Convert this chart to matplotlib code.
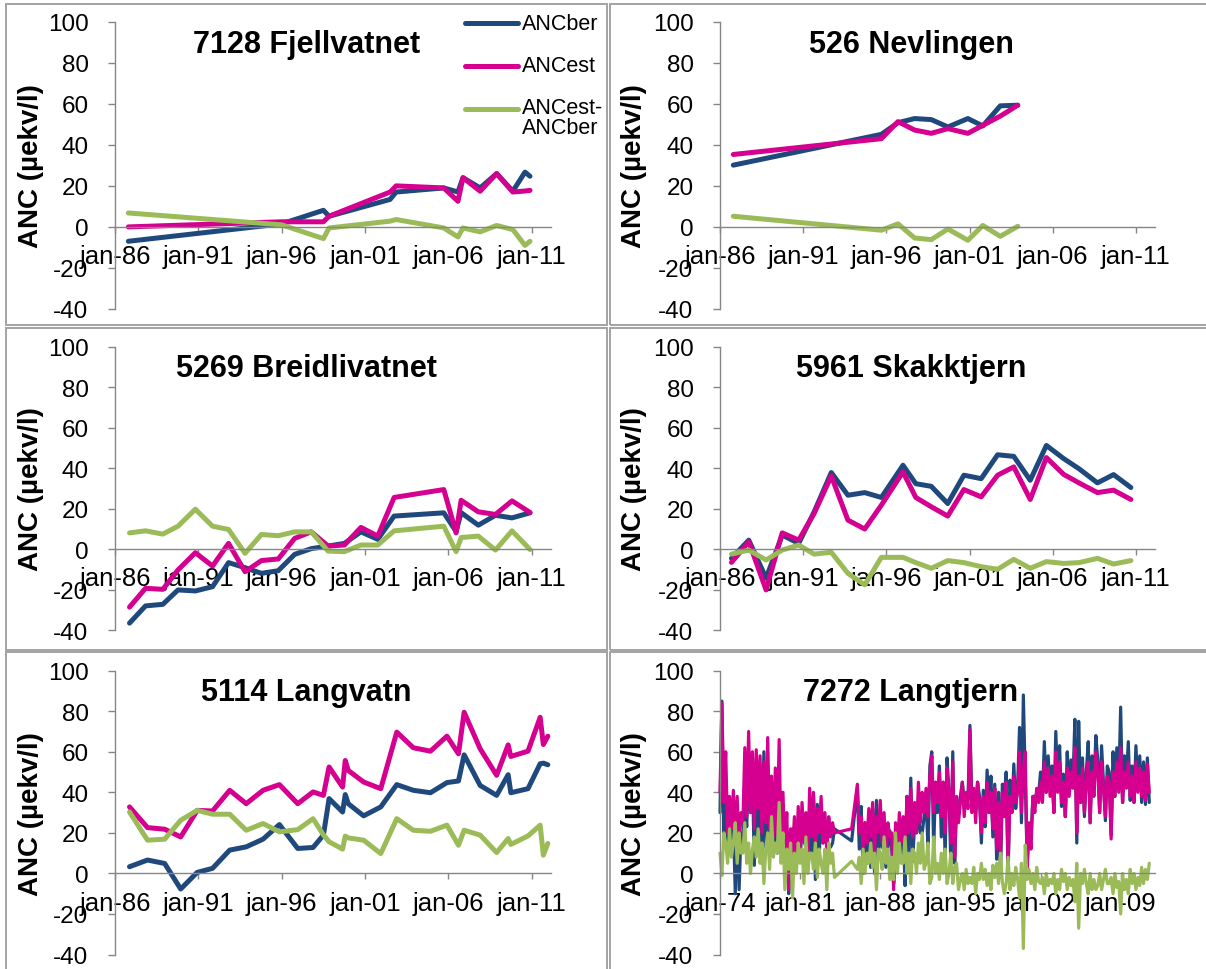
import numpy as np
import matplotlib
matplotlib.use('Agg')
import matplotlib.pyplot as plt
from matplotlib.patches import Rectangle
from matplotlib.lines import Line2D

plt.rcParams['font.family'] = ['Liberation Sans', 'DejaVu Sans']

W, H = 1206, 970
BLUE = '#1F497D'
PINK = '#D5008F'
GREEN = '#9BBB59'
AXC = '#868686'

series_names = ['ANCber', 'ANCest', 'ANCest-\nANCber']

# ---------------- 7128 Fjellvatnet ----------------
fj_year = [1986.8, 1996.0, 1998.5, 1998.84, 2002.5, 2002.86, 2005.72, 2006.57,
           2006.87, 2007.9, 2008.89, 2009.86, 2010.59, 2010.89]
fj_ber = [-7.0, 1.5, 8.1, 5.2, 13.4, 17.0, 19.0, 17.0, 24.0, 19.0, 26.0, 17.4, 26.7, 24.7]
fj_est = [0.0, 2.5, 2.5, 5.2, 17.0, 20.0, 19.0, 12.5, 24.0, 17.4, 26.0, 17.0, 17.5, 17.8]
fj_diff = [6.8, 1.0, -5.7, -0.5, 2.8, 3.6, -0.5, -4.9, -0.5, -2.4, 0.7, -1.3, -9.0, -7.0]

# ---------------- 526 Nevlingen ----------------
nv_year = [1986.8, 1995.7, 1996.7, 1997.7, 1998.7, 1999.7, 2000.9, 2001.8, 2002.85, 2003.9]
nv_ber = [30.1, 45.1, 50.8, 52.8, 52.3, 48.7, 52.8, 49.2, 59.0, 59.3]
nv_est = [35.3, 43.0, 51.3, 47.2, 45.6, 47.9, 45.6, 49.5, 54.0, 59.3]
nv_diff = [5.2, -1.6, 1.5, -5.4, -6.2, -1.0, -6.5, 0.7, -4.6, 0.3]

# ---------------- 5269 Breidlivatnet ----------------
br_year = [1986.87, 1987.83, 1988.87, 1989.78, 1990.82, 1991.85, 1992.81, 1993.8,
           1994.78, 1995.79, 1996.78, 1997.77, 1998.78, 1999.76, 2000.75, 2001.76,
           2002.74, 2005.72, 2006.46, 2006.76, 2007.79, 2008.82, 2009.81, 2010.89]
br_ber = [-36.6, -28.1, -27.3, -20.2, -20.7, -18.6, -6.7, -9.2, -12.0, -10.7, -2.6, 0.2,
          1.5, 2.8, 8.5, 4.8, 16.3, 17.9, 8.7, 18.0, 11.8, 16.7, 15.4, 17.9]
br_est = [-28.7, -19.4, -19.9, -10.3, -1.8, -8.4, 2.8, -11.2, -5.7, -4.9, 5.3, 8.5,
          1.5, 2.0, 10.7, 6.4, 25.5, 29.4, 8.0, 24.1, 18.4, 17.1, 23.8, 18.1]
br_diff = [8.0, 9.0, 7.4, 11.3, 19.7, 11.3, 9.7, -2.1, 7.2, 6.6, 8.5, 8.5,
           -1.0, -1.3, 2.0, 2.0, 9.0, 11.3, -1.3, 5.7, 6.4, -0.5, 9.0, -0.2]

# ---------------- 5961 Skakktjern ----------------
sk_year = [1986.69, 1987.73, 1988.77, 1989.74, 1990.73, 1991.66, 1992.69, 1993.69,
           1994.7, 1995.7, 1997.0, 1997.77, 1998.7, 1999.69, 2000.66, 2001.7,
           2002.69, 2003.66, 2004.65, 2005.62, 2006.66, 2007.58, 2008.69, 2009.66, 2010.7]
sk_ber = [-4.6, 4.4, -14.4, 6.9, 2.8, 18.4, 37.8, 26.6, 27.9, 25.5, 41.4, 32.3, 31.0,
          22.5, 36.5, 34.8, 46.6, 45.8, 34.0, 51.2, 44.7, 39.7, 32.7, 36.8, 30.4]
sk_est = [-6.6, 3.6, -20.2, 8.0, 4.4, 17.6, 36.1, 14.3, 9.9, 21.7, 38.1, 25.5, 20.9,
          16.3, 29.4, 25.8, 36.5, 40.6, 24.5, 45.2, 36.9, 32.7, 27.9, 29.1, 24.5]
sk_diff = [-2.5, -0.5, -5.4, -0.5, 2.0, -2.5, -1.6, -12.0, -17.7, -4.1, -4.1, -6.7, -9.5,
           -5.7, -6.7, -8.7, -10.0, -5.1, -9.5, -6.2, -7.1, -6.7, -4.6, -7.4, -5.7]

# ---------------- 5114 Langvatn ----------------
lv_year = [1986.87, 1987.95, 1988.98, 1989.94, 1990.93, 1991.85, 1992.88, 1993.87,
           1994.88, 1995.86, 1996.96, 1997.88, 1998.5, 1998.84, 1999.65, 1999.81,
           1999.99, 2000.91, 2001.94, 2002.9, 2003.89, 2004.92, 2005.91, 2006.6,
           2006.94, 2007.9, 2008.89, 2009.58, 2009.74, 2010.77, 2011.5, 2011.69, 2011.96]
lv_ber = [3.3, 6.6, 4.9, -7.7, 0.5, 2.5, 11.5, 13.1, 16.9, 24.1, 12.3, 12.8, 18.9,
          36.9, 30.3, 38.9, 34.4, 28.4, 32.8, 43.8, 41.0, 39.8, 44.8, 45.6, 58.5,
          43.4, 38.5, 48.7, 39.8, 41.8, 54.1, 54.4, 53.6]
lv_est = [32.8, 22.6, 21.8, 18.0, 31.1, 30.8, 41.0, 34.4, 41.0, 43.8, 34.4, 40.2, 38.5,
          52.5, 42.6, 55.7, 50.8, 45.1, 41.8, 69.7, 62.0, 60.3, 67.7, 59.0, 79.5,
          61.5, 48.4, 63.4, 57.7, 60.3, 77.0, 63.6, 67.7]
lv_diff = [30.3, 16.4, 16.9, 26.2, 31.1, 29.2, 29.2, 21.3, 24.6, 20.5, 21.6, 27.0, 19.0,
           15.6, 12.0, 18.4, 17.5, 16.4, 9.8, 27.0, 21.3, 20.8, 23.8, 13.9, 21.3,
           18.9, 10.3, 17.2, 14.3, 18.5, 23.8, 9.0, 14.8]

# ---------------- 7272 Langtjern (sampled 6 times a year) ----------------
lt_est_early = [40, 84, 35, 60, 20, 38,
                22, 41, 15, 38, 12, 30,
                25, 62, 28, 70, 30, 60,
                22, 61, 32, 58, 20, 55,
                25, 67, 22, 48, 18, 52,
                20, 66, 15, 40, 10, 30,
                -8, 22, 10, 28, 5, 33,
                12, 35, 15, 30, 8, 42,
                18, 40, 12, 32, 20, 38,
                15, 30, 10, 28, 18, 25,
                20, 22]
lt_diff_early = [10, -1, 20, 15, 5, 22,
                 8, 15, 25, 5, 20, 10,
                 10, 25, 5, 15, 0, 12,
                 18, 8, 22, 5, 15, -5,
                 12, 20, 2, 28, 8, 15,
                 10, 35, 5, 20, -8, 12,
                 2, 15, -12, 10, 0, 15,
                 5, 12, -5, 18, 0, 10,
                 10, 2, 15, -2, 12, 5,
                 0, 12, -8, 15, 5, 10,
                 -2, 6]
lt_ber_early = [30, 85, 15, 45, 15, 16,
                14, 26, -10, 33, -8, 20,
                15, 37, 23, 55, 30, 48,
                4, 53, 10, 53, 5, 60,
                13, 47, 20, 20, 10, 37,
                10, 31, 10, 20, 18, 18,
                -10, 7, 22, 18, 5, 18,
                7, 23, 20, 12, 8, 32,
                8, 38, -3, 34, 8, 33,
                15, 18, 18, 13, 13, 15,
                22, 16]
lt_est_late = [44, 20, 28, 12, 25, 15,
               32, 18, 35, 10, 28, 20,
               36, 15, 30, 8, 25, 18,
               20, -8, 25, 10, 30, 15,
               28, 12, 38, 20, 42, 18,
               35, 20, 45, 25, 40, 30,
               42, 28, 48, 58, 30, 45,
               35, 50, 28, 45, 20, 52,
               40, 15, 55, 8, 38, 25,
               35, 45, 28, 40, 32, 71,
               30, 42, 25, 45, 35, 20,
               38, 25, 45, 30, 40, 22,
               42, 12, 35, 8, 40, 28,
               45, 5, 38, 30, 48, 35,
               40, 60, 30, 51, 60, 2,
               25, 12, 38, 30, 42, 35,
               45, 35, 55, 40, 52, 38,
               48, 30, 60, 40, 55, 35,
               45, 28, 52, 38, 50, 42,
               62, 20, 48, 35, 52, 30,
               45, 55, 25, 50, 38, 60,
               50, 30, 55, 42, 28, 48,
               45, 17, 50, 38, 55, 40,
               62, 35, 50, 42, 55, 38,
               48, 35, 55, 40, 52, 38,
               50, 36, 54, 40]
lt_diff_late = [2, 8, -5, 12, 0, 10,
                5, 15, 3, 10, -8, 12,
                10, 2, 18, 5, 12, -3,
                8, -3, 20, 0, 15, 5,
                5, 18, 0, 10, -5, 12,
                10, 0, 15, 5, 20, 2,
                5, 15, -5, -2, 18, 0,
                5, -3, 10, 0, 12, -5,
                0, 10, -5, 3, 5, -8,
                -3, 0, -8, 2, -5, -2,
                -5, 3, -10, 0, -3, 5,
                -3, 2, -6, 0, -8, 4,
                -2, 5, -5, 10, -4, -10,
                -5, 8, -8, 0, -6, 3,
                -3, -12, 5, -37, 14, -3,
                2, -5, 0, -8, 3, -4,
                -5, -2, -10, 0, -6, -3,
                -5, 0, -10, -3, -8, 2,
                -4, 0, -8, -2, -6, -3,
                -14, 5, -27, 0, -5, 2,
                -5, -10, 0, -8, -3, -8,
                -6, 0, -8, -3, 2, -5,
                -5, -2, -10, 0, -7, -4,
                -20, 0, -8, -3, -10, 2,
                -5, 0, -8, -2, -6, 3,
                -5, 2, -3, 5]
lt_ber_late = [42, 12, 33, 0, 25, 5,
               27, 3, 32, 0, 36, 8,
               26, 13, 12, 3, 13, 21,
               12, -5, 5, 10, 15, 10,
               23, -6, 38, 10, 47, 6,
               25, 20, 30, 20, 20, 28,
               37, 13, 53, 60, 12, 45,
               30, 53, 18, 45, 8, 57,
               40, 5, 60, 5, 33, 33,
               38, 45, 36, 38, 37, 73,
               35, 39, 35, 45, 38, 15,
               41, 23, 51, 30, 48, 18,
               44, 7, 40, -2, 44, 38,
               50, -3, 46, 30, 54, 32,
               43, 72, 25, 88, 46, 5,
               23, 17, 38, 38, 39, 39,
               50, 37, 65, 40, 58, 41,
               53, 30, 70, 43, 63, 33,
               49, 28, 60, 40, 56, 45,
               76, 15, 75, 35, 57, 28,
               50, 65, 25, 58, 41, 68,
               56, 30, 63, 45, 26, 53,
               50, 19, 60, 38, 62, 44,
               82, 35, 58, 45, 65, 36,
               53, 35, 63, 42, 58, 35,
               55, 34, 57, 35]
# sampling schedule: every 2 months 1974-1984, one sample mid-1985, every 2 months from 1986
lt_year = list(1974 + np.arange(61) / 6) + [1985.5] + list(1986 + np.arange(len(lt_est_late)) / 6)
lt_ber = lt_ber_early + lt_ber_late
lt_est = lt_est_early + lt_est_late
lt_diff = lt_diff_early + lt_diff_late

# ---------------- axes ticks ----------------
y_ticks = [-40, -20, 0, 20, 40, 60, 80, 100]
x_ticks_std = [1986, 1991, 1996, 2001, 2006, 2011]
x_labels_std = ['jan-86', 'jan-91', 'jan-96', 'jan-01', 'jan-06', 'jan-11']
x_ticks_lt = [1974, 1981, 1988, 1995, 2002, 2009]
x_labels_lt = ['jan-74', 'jan-81', 'jan-88', 'jan-95', 'jan-02', 'jan-09']

fig = plt.figure(figsize=(W / 100, H / 100), dpi=100)

# chart-area borders (pixel boxes: left, top, right, bottom)
borders = [(6, 5, 607, 326), (610, 5, 1215, 326),
           (6, 329, 607, 651), (610, 329, 1215, 651),
           (6, 653, 607, 985), (610, 653, 1215, 985)]
for (l, t, r, b) in borders:
    fig.add_artist(Rectangle((l / W, 1 - b / H), (r - l) / W, (b - t) / H,
                             transform=fig.transFigure, fill=False,
                             edgecolor='#A3A3A3', lw=1.4))

panels = [
    (0, 0, '7128 Fjellvatnet', fj_year, fj_ber, fj_est, fj_diff, 'std', 3.6),
    (1, 0, '526 Nevlingen', nv_year, nv_ber, nv_est, nv_diff, 'std', 3.6),
    (0, 1, '5269 Breidlivatnet', br_year, br_ber, br_est, br_diff, 'std', 3.6),
    (1, 1, '5961 Skakktjern', sk_year, sk_ber, sk_est, sk_diff, 'std', 3.6),
    (0, 2, '5114 Langvatn', lv_year, lv_ber, lv_est, lv_diff, 'std', 3.6),
    (1, 2, '7272 Langtjern', lt_year, lt_ber, lt_est, lt_diff, 'lt', 2.3),
]

col_x = [(115, 551), (720, 1155)]
row_y = [(22.7, 310.0), (347.7, 631.0), (671.7, 955.5)]
title_cx = [306.5, 911.0]
title_cy = [45, 369, 693]
ylabel_cx = [31.5, 634.5]

for col, row, title, yrs, ber, est, diff, kind, lw in panels:
    x0, x1 = col_x[col]
    yt, yb = row_y[row]
    ax = fig.add_axes([x0 / W, 1 - yb / H, (x1 - x0) / W, (yb - yt) / H])
    ax.patch.set_alpha(0)
    ax.set_axisbelow(True)
    for s in ('top', 'right'):
        ax.spines[s].set_visible(False)
    ax.spines['bottom'].set_position(('data', 0))
    for s in ('left', 'bottom'):
        ax.spines[s].set_color(AXC)
        ax.spines[s].set_linewidth(1.0)

    for vals, c in ((ber, BLUE), (est, PINK), (diff, GREEN)):
        ax.plot(yrs, vals, color=c, lw=lw, solid_joinstyle='round',
                solid_capstyle='round', clip_on=False)

    if kind == 'std':
        ax.set_xlim(1986.0, 2012.15)
        ax.set_xticks(x_ticks_std)
        ax.set_xticklabels(x_labels_std)
    else:
        ax.set_xlim(1974.0, 2012.0)
        ax.set_xticks(x_ticks_lt)
        ax.set_xticklabels(x_labels_lt)
    ax.set_ylim(-40, 100)
    ax.set_yticks(y_ticks)
    ax.set_yticklabels([str(v) for v in y_ticks])
    ax.tick_params(axis='y', direction='out', length=5, width=1.0, color=AXC,
                   pad=14, labelsize=17.5, labelcolor='black')
    ax.tick_params(axis='x', direction='out', length=4.5, width=1.0, color=AXC,
                   pad=8, labelsize=18.5, labelcolor='black')

    ax.set_ylabel('ANC (µekv/l)', fontsize=20, fontweight='bold', va='center')
    ax.yaxis.set_label_coords((ylabel_cx[col] - x0) / (x1 - x0), 0.5)

    fig.text(title_cx[col] / W, 1 - title_cy[row] / H, title, ha='center',
             va='center', fontsize=22, fontweight='bold')

# legend (top-left chart)
leg_y = [24.3, 66.7, 109.5]
for name, c, y in zip(series_names, (BLUE, PINK, GREEN), leg_y):
    fig.add_artist(Line2D([465 / W, 518 / W], [1 - y / H, 1 - y / H],
                          transform=fig.transFigure, color=c, lw=3.6,
                          solid_capstyle='round'))
    if '\n' in name:
        fig.text(522 / W, 1 - (y - 12) / H, name, ha='left', va='top',
                 fontsize=15.5, linespacing=1.0)
    else:
        fig.text(522 / W, 1 - y / H, name, ha='left', va='center', fontsize=15.5)

fig.savefig('out.png', dpi=100)
